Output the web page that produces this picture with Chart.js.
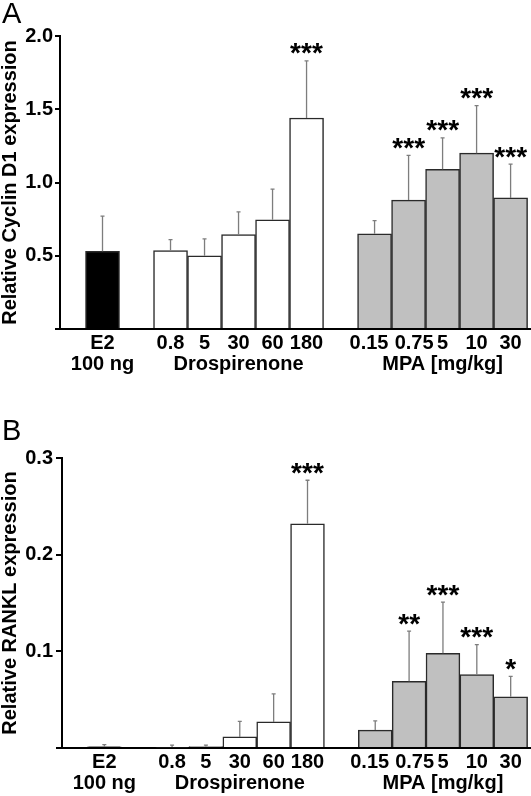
<!DOCTYPE html>
<html><head><meta charset="utf-8">
<script src="https://cdn.jsdelivr.net/npm/chart.js@4"></script>
<style>
html,body{margin:0;padding:0;background:#fff;}
#wrap{position:relative;width:531px;height:796px;overflow:hidden;background:#fff;}
.panel{position:absolute;left:0;width:531px;}
</style></head><body>
<div id="wrap">
<div class="panel" style="top:0;height:390px"><canvas id="cA" width="531" height="390"></canvas></div>
<div class="panel" style="top:390px;height:406px"><canvas id="cB" width="531" height="406"></canvas></div>
</div>
<script>
// ---- categories ----
const e2Doses = ['E2'];
const drspDoses = ['0.8', '5', '30', '60', '180'];
const mpaDoses = ['0.15', '0.75', '5', '10', '30'];
const groupNames = ['100 ng', 'Drospirenone', 'MPA [mg/kg]'];

// ---- Panel A: Cyclin D1 ----
const cyclinE2 = [0.53];
const cyclinE2Err = [0.24];
const cyclinE2Stars = [''];
const cyclinDrsp = [0.535, 0.50, 0.645, 0.745, 1.44];
const cyclinDrspErr = [0.075, 0.115, 0.155, 0.21, 0.39];
const cyclinDrspStars = ['', '', '', '', '***'];
const cyclinMpa = [0.65, 0.88, 1.09, 1.20, 0.895];
const cyclinMpaErr = [0.09, 0.305, 0.215, 0.325, 0.23];
const cyclinMpaStars = ['', '***', '***', '***', '***'];
const cyclinTicks = [0.5, 1.0, 1.5, 2.0];

// ---- Panel B: RANKL ----
const ranklE2 = [0.0012];
const ranklE2Err = [0.0022];
const ranklE2Stars = [''];
const ranklDrsp = [0.001, 0.0015, 0.0115, 0.027, 0.232];
const ranklDrspErr = [0.002, 0.0015, 0.016, 0.029, 0.045];
const ranklDrspStars = ['', '', '', '', '***'];
const ranklMpa = [0.0185, 0.069, 0.098, 0.076, 0.053];
const ranklMpaErr = [0.0095, 0.052, 0.053, 0.031, 0.021];
const ranklMpaStars = ['', '**', '***', '***', '*'];
const ranklTicks = [0.1, 0.2, 0.3];

// ---- layout helpers ----
const FONT = "'Liberation Sans', Arial, Helvetica, sans-serif";
const groupDoses = [e2Doses, drspDoses, mpaDoses];
const groupColors = ['#000000', '#ffffff', '#c0c0c0'];
const slots = [];
(function () {
  let s = 0;
  groupDoses.forEach(g => { const arr = []; g.forEach(() => arr.push(s++)); slots.push(arr); s++; });
})();
// small horizontal nudges of crowded tick labels (first two MPA doses pushed apart)
function nudge(gi, k, text) {
  if (gi === 2 && k === 0) return text + '  ';
  if (gi === 2 && k === 1) return '  ' + text;
  return text;
}
const tickSlots = [];
const tickLabelMap = {};
groupDoses.forEach((doses, gi) => doses.forEach((d, k) => {
  const s = slots[gi][k];
  tickSlots.push(s);
  const t = nudge(gi, k, d);
  tickLabelMap[s] = (k === Math.floor(doses.length / 2)) ? [t, groupNames[gi]] : t;
}));

const overlayPlugin = {
  id: 'overlay',
  afterDatasetsDraw(chart) {
    const ctx = chart.ctx;
    const p = chart.options.plugins.overlay;
    const y = chart.scales.y;
    const meta = chart.getDatasetMeta(0);
    const ds = chart.data.datasets[0];
    ctx.save();
    meta.data.forEach((bar, i) => {
      const v = ds.data[i].y, e = p.errors[i];
      const yTop = y.getPixelForValue(v + e);
      const yBar = y.getPixelForValue(v);
      ctx.strokeStyle = '#7d7d7d';
      ctx.lineWidth = 1.3;
      ctx.beginPath();
      ctx.moveTo(bar.x, yBar);
      ctx.lineTo(bar.x, yTop);
      ctx.moveTo(bar.x - 2, yTop);
      ctx.lineTo(bar.x + 2, yTop);
      ctx.stroke();
      const st = p.stars[i];
      if (st) {
        ctx.fillStyle = '#000';
        ctx.font = 'bold 28px ' + FONT;
        ctx.textAlign = 'center';
        ctx.textBaseline = 'alphabetic';
        const m = ctx.measureText('*');
        const cy = yTop - 12;
        const base = cy + (m.actualBoundingBoxAscent - m.actualBoundingBoxDescent) / 2;
        const n = st.length;
        for (let k = 0; k < n; k++) {
          ctx.fillText('*', bar.x + (k - (n - 1) / 2) * 11, base);
        }
      }
    });
    // panel letter
    ctx.fillStyle = '#000';
    ctx.font = '29px ' + FONT;
    ctx.textAlign = 'left';
    ctx.textBaseline = 'alphabetic';
    ctx.fillText(p.letter, p.letterX, p.letterY);
    ctx.restore();
  }
};

function makePanel(id, cfg) {
  const pts = [], bg = [], errs = [], stars = [];
  cfg.values.forEach((vals, gi) => vals.forEach((v, k) => {
    pts.push({ x: slots[gi][k], y: v });
    bg.push(groupColors[gi]);
    errs.push(cfg.errors[gi][k]);
    stars.push(cfg.stars[gi][k]);
  }));
  return new Chart(document.getElementById(id), {
    type: 'bar',
    data: { datasets: [{
      data: pts,
      backgroundColor: bg,
      borderColor: '#2a2a2a',
      borderWidth: 1.5,
      borderSkipped: 'bottom',
      barPercentage: 1.0,
      categoryPercentage: 1.0
    }] },
    options: {
      responsive: false,
      animation: false,
      devicePixelRatio: 1,
      layout: { padding: { top: cfg.padTop, right: 0, bottom: 0, left: 0 } },
      plugins: {
        legend: { display: false },
        tooltip: { enabled: false },
        overlay: { errors: errs, stars: stars, letter: cfg.letter, letterX: cfg.letterX, letterY: cfg.letterY }
      },
      scales: {
        x: {
          type: 'linear',
          min: -1.25, max: 12.6,
          offset: false,
          afterBuildTicks: (s) => { s.ticks = tickSlots.map(v => ({ value: v })); },
          afterFit: (s) => { s.height = cfg.xHeight; },
          grid: { display: false, drawTicks: false },
          border: { display: true, color: '#000', width: 2 },
          ticks: {
            autoSkip: false, maxRotation: 0, minRotation: 0,
            padding: 4,
            color: '#000',
            font: { family: FONT, size: 20, weight: 'bold', lineHeight: 1.05 },
            callback: (v) => tickLabelMap[v] !== undefined ? tickLabelMap[v] : ''
          }
        },
        y: {
          min: 0, max: cfg.yTicks[cfg.yTicks.length - 1],
          afterBuildTicks: (s) => { s.ticks = [0].concat(cfg.yTicks).map(v => ({ value: v })); },
          afterFit: (s) => { s.width = cfg.yWidth; },
          grid: { display: true, drawOnChartArea: false, drawTicks: true, tickLength: cfg.tickLen, color: '#000', lineWidth: 2 },
          border: { display: true, color: '#000', width: 2 },
          ticks: {
            padding: cfg.tickPad,
            color: '#000',
            font: { family: FONT, size: 20, weight: 'bold' },
            callback: (v) => v === 0 ? '' : v.toFixed(1)
          },
          title: {
            display: true,
            text: cfg.title,
            color: '#000',
            padding: { top: 0, bottom: 0 },
            font: { family: FONT, size: 20, weight: 'bold', lineHeight: 1 }
          }
        }
      }
    },
    plugins: [overlayPlugin]
  });
}

makePanel('cA', {
  values: [cyclinE2, cyclinDrsp, cyclinMpa],
  errors: [cyclinE2Err, cyclinDrspErr, cyclinMpaErr],
  stars: [cyclinE2Stars, cyclinDrspStars, cyclinMpaStars],
  yTicks: cyclinTicks,
  title: 'Relative Cyclin D1 expression',
  padTop: 36, xHeight: 61, yWidth: 60, tickLen: 5, tickPad: 2,
  letter: 'A', letterX: 2, letterY: 23
});
makePanel('cB', {
  values: [ranklE2, ranklDrsp, ranklMpa],
  errors: [ranklE2Err, ranklDrspErr, ranklMpaErr],
  stars: [ranklE2Stars, ranklDrspStars, ranklMpaStars],
  yTicks: ranklTicks,
  title: 'Relative RANKL expression',
  padTop: 68, xHeight: 48, yWidth: 62, tickLen: 6, tickPad: 3,
  letter: 'B', letterX: 2, letterY: 50
});
</script>
</body></html>
